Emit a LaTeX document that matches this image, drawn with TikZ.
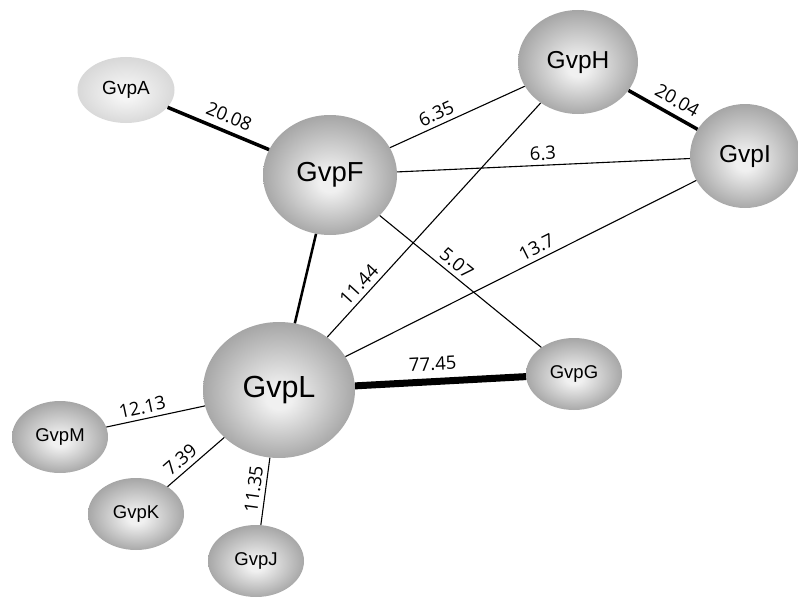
\documentclass[tikz,border=0pt]{standalone}
\usepackage{fontspec}
\setmainfont{Liberation Sans}
\newfontfamily\edgefont{Open Sans}
\usetikzlibrary{shapes.geometric}
\definecolor{ballin}{gray}{0.94}
\definecolor{ballout}{gray}{0.61}
\definecolor{lightin}{gray}{0.96}
\definecolor{lightout}{gray}{0.83}
\pgfdeclareradialshading{ballshade}{\pgfpoint{0cm}{-0.12cm}}{color(0cm)=(ballin); color(0.15cm)=(ballin); color(1cm)=(ballout)}
\pgfdeclareradialshading{lightshade}{\pgfpoint{0cm}{-0.12cm}}{color(0cm)=(lightin); color(0.15cm)=(lightin); color(1cm)=(lightout)}
\tikzset{
  prot/.style={ellipse, shade, shading=ballshade, inner sep=0pt},
  lightprot/.style={ellipse, shade, shading=lightshade, inner sep=0pt},
  small/.style={minimum width=96pt, minimum height=72pt, font=\fontsize{18.5}{20}\selectfont},
  edge/.style={draw=black, line width=1.1pt},
  wlab/.style={font=\edgefont\fontsize{18.5}{18.5}\selectfont, sloped, above, inner sep=4.5pt}
}
\begin{document}
\begin{tikzpicture}[x=1pt, y=-1pt]
\useasboundingbox (0,0) rectangle (798,602);
% nodes
\node[lightprot, minimum width=97pt, minimum height=66pt, font=\fontsize{19}{20}\selectfont] (A) at (126,90) {GvpA};
\node[prot, minimum width=134pt, minimum height=120pt, font=\fontsize{27.5}{30}\selectfont] (F) at (330,175) {GvpF};
\node[prot, minimum width=120pt, minimum height=104pt, font=\fontsize{24.5}{26}\selectfont] (H) at (578,62) {GvpH};
\node[prot, minimum width=110pt, minimum height=104pt, font=\fontsize{24.5}{26}\selectfont] (I) at (745,156) {GvpI};
\node[prot, minimum width=152pt, minimum height=136pt, font=\fontsize{30.5}{32}\selectfont] (L) at (279,390) {GvpL};
\node[prot, small] (M) at (60,437) {GvpM};
\node[prot, small] (K) at (136,514) {GvpK};
\node[prot, small] (J) at (256,561) {GvpJ};
\node[prot, small] (G) at (574,374) {GvpG};
% edges
\draw[edge, line width=3.5pt] (A) -- node[wlab, pos=0.55, above=2pt] {20.08} (F);
\draw[edge] (F) -- node[wlab, pos=0.38] {6.35} (H);
\draw[edge] (F) -- node[wlab, pos=0.5] {6.3} (I);
\draw[edge, line width=3.5pt] (H) -- node[wlab, pos=0.6, above=2pt] {20.04} (I);
\draw[edge, line width=2.5pt] (F) -- (L);
\draw[edge] (L) -- node[wlab, pos=0.19] {11.44} (H);
\draw[edge] (L) -- node[wlab, pos=0.56] {13.7} (I);
\draw[edge] (F) -- node[wlab, pos=0.43] {5.07} (G);
\draw[edge, line width=7pt] (L) -- node[wlab, pos=0.46, above=3pt] {77.45} (G);
\draw[edge] (M) -- node[wlab, pos=0.39] {12.13} (L);
\draw[edge] (K) -- node[wlab, pos=0.36] {7.39} (L);
\draw[edge] (J) -- node[wlab, pos=0.51] {11.35} (L);
\end{tikzpicture}
\end{document}
